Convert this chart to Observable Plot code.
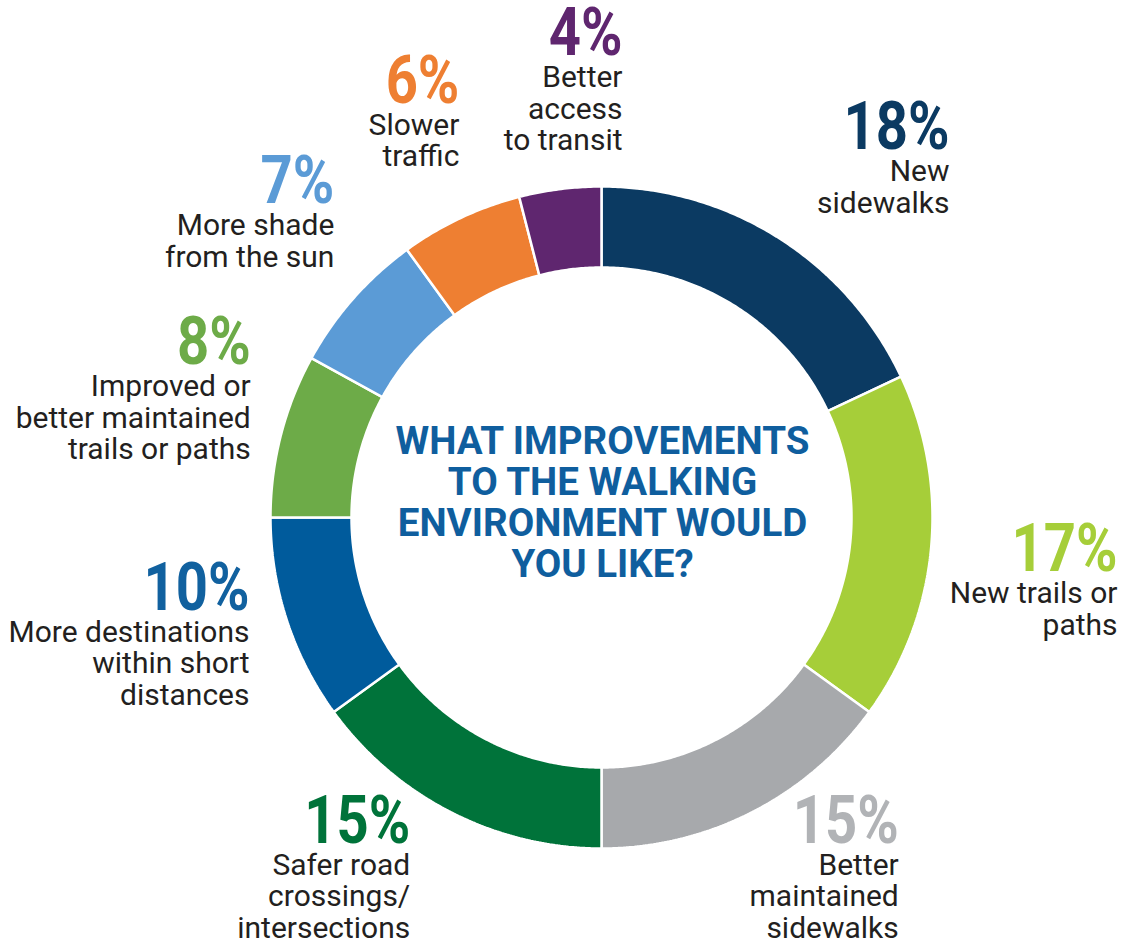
<!DOCTYPE html>
<html>
<head>
<meta charset="utf-8">
<script src="https://cdn.jsdelivr.net/npm/d3@7"></script>
<script src="https://cdn.jsdelivr.net/npm/@observablehq/plot@0.6"></script>
<style>
  html, body { margin: 0; padding: 0; background: #ffffff; }
  #chart svg { display: block; }
</style>
</head>
<body>
<div id="chart"></div>
<script>
// ---- Data ----
const categories = [
  "New sidewalks",
  "New trails or paths",
  "Better maintained sidewalks",
  "Safer road crossings/ intersections",
  "More destinations within short distances",
  "Improved or better maintained trails or paths",
  "More shade from the sun",
  "Slower traffic",
  "Better access to transit"
];
const values = [18, 17, 15, 15, 10, 8, 7, 6, 4];
const labelLines = [
  ["New", "sidewalks"],
  ["New trails or", "paths"],
  ["Better", "maintained", "sidewalks"],
  ["Safer road", "crossings/", "intersections"],
  ["More destinations", "within short", "distances"],
  ["Improved or", "better maintained", "trails or paths"],
  ["More shade", "from the sun"],
  ["Slower", "traffic"],
  ["Better", "access", "to transit"]
];
const sliceColors = ["#0b3a62", "#a6ce39", "#a7a9ac", "#00733a", "#005b9c", "#6dab48", "#5b9bd6", "#ee7f32", "#5f266f"];
const pctColors   = ["#0b3a62", "#a6ce39", "#b1b3b6", "#00733a", "#11619f", "#6dab48", "#5b9bd6", "#ee7f32", "#5f266f"];
const titleLines = ["WHAT IMPROVEMENTS", "TO THE WALKING", "ENVIRONMENT WOULD", "YOU LIKE?"];

// ---- Layout ----
const W = 1126, H = 949;
const cx = 601, cy = 517, rOuter = 331, rInner = 250;
const pctSize = 66, subSize = 30, firstGap = 32, lineH = 31.5;
const labelRx = 490, labelRy = 440, labelTurn = 2.7 * Math.PI / 180; // ellipse for label block centres
const ringClear = 6;                                                  // min gap between label and ring
const padL = 8, padR = 9, padT = 8, padB = 12;                        // keep label blocks inside canvas

// measuring (condensed look via horizontal scale of Roboto)
const ctx = document.createElement("canvas").getContext("2d");
function measure(t, font) { ctx.font = font; return ctx.measureText(t).width; }
const subScale = 241 / measure("More destinations", `400 ${subSize}px Roboto`);
const pctScale = 106 / measure("10%", `700 ${pctSize}px Roboto`);

// ---- Slices as polygons ----
const arcs = d3.pie().sort(null).value(d => d)(values);
const slicePts = [];
arcs.forEach((a, i) => {
  const n = Math.max(8, Math.ceil((a.endAngle - a.startAngle) * 120));
  const pts = [];
  for (let k = 0; k <= n; k++) {
    const t = a.startAngle + (a.endAngle - a.startAngle) * k / n;
    pts.push([cx + rOuter * Math.sin(t), cy - rOuter * Math.cos(t)]);
  }
  for (let k = n; k >= 0; k--) {
    const t = a.startAngle + (a.endAngle - a.startAngle) * k / n;
    pts.push([cx + rInner * Math.sin(t), cy - rInner * Math.cos(t)]);
  }
  pts.push(pts[0]);
  pts.forEach(([x, y]) => slicePts.push({key: categories[i], color: sliceColors[i], x, y}));
});

// ---- Label placement ----
function rectDist(x0, y0, x1, y1) {
  const dx = Math.max(x0 - cx, 0, cx - x1);
  const dy = Math.max(y0 - cy, 0, cy - y1);
  return Math.hypot(dx, dy);
}
const pctRows = [], subRows = [];
arcs.forEach((a, i) => {
  const mid = (a.startAngle + a.endAngle) / 2 + labelTurn;
  const pct = values[i] + "%";
  const capP = pctSize * 0.711, capS = subSize * 0.711;
  const rects = [[-measure(pct, `700 ${pctSize}px Roboto`) * pctScale, -capP, 0, 0]];
  labelLines[i].forEach((l, j) => {
    const w = measure(l, `400 ${subSize}px Roboto`) * subScale;
    const b = firstGap + j * lineH;
    rects.push([-w, b - capS, 0, b]);
  });
  const bw = -d3.min(rects, r => r[0]);
  const top = -capP, bottom = d3.max(rects, r => r[3]);
  let bcx = cx + labelRx * Math.sin(mid);
  let bcy = cy - labelRy * Math.cos(mid);
  bcx = Math.max(padL + bw / 2, Math.min(W - padR - bw / 2, bcx));
  bcy = Math.max(padT + (bottom - top) / 2, Math.min(H - padB - (bottom - top) / 2, bcy));
  let ax = bcx + bw / 2;
  const ay = bcy - (top + bottom) / 2;
  // push sideways, away from the ring, until every line clears it
  const dir = Math.sin(mid) >= 0 ? 1 : -1;
  for (let k = 0; k < 400; k++) {
    const d = d3.min(rects, r => rectDist(ax + r[0], ay + r[1], ax + r[2], ay + r[3]));
    if (d >= rOuter + ringClear) break;
    ax += dir;
  }
  pctRows.push({x: ax, y: ay, text: pct, color: pctColors[i]});
  labelLines[i].forEach((l, j) => subRows.push({x: ax, y: ay + firstGap + j * lineH, text: l}));
});

const titleRows = titleLines.map((t, i) => ({x: cx + 1, y: cy - 64 + i * 41, text: t}));

const chart = Plot.plot({
  width: W,
  height: H,
  margin: 0,
  style: {background: "#ffffff"},
  x: {domain: [0, W], range: [0, W], axis: null},
  y: {domain: [0, H], range: [0, H], axis: null},
  color: {type: "identity"},
  marks: [
    Plot.line(slicePts, {x: "x", y: "y", z: "key", fill: "color", stroke: "#ffffff", strokeWidth: 2.5, strokeLinejoin: "miter"}),
    Plot.text(pctRows, {x: "x", y: "y", text: "text", fill: "color", fontSize: pctSize, fontWeight: 700, fontFamily: "Roboto", textAnchor: "end", lineAnchor: "bottom"}),
    Plot.text(subRows, {x: "x", y: "y", text: "text", fill: "#231f20", fontSize: subSize, fontWeight: 400, fontFamily: "Roboto", textAnchor: "end", lineAnchor: "bottom"}),
    Plot.text(titleRows, {x: "x", y: "y", text: "text", fill: "#0f5e9e", fontSize: 38.5, fontWeight: 700, fontFamily: "Roboto", textAnchor: "middle", lineAnchor: "bottom"})
  ]
});

function condense(size, s) {
  chart.querySelectorAll(`g[font-size="${size}"] text`).forEach(t => {
    const tr = t.getAttribute("transform") || "";
    if (t.hasAttribute("x")) {
      const x = t.getAttribute("x");
      t.removeAttribute("x");
      t.setAttribute("transform", `${tr} translate(${x},0) scale(${s},1)`);
    } else {
      t.setAttribute("transform", `${tr} scale(${s},1)`);
    }
  });
}
condense(pctSize, pctScale);
condense(subSize, subScale);

document.getElementById("chart").appendChild(chart);
</script>
</body>
</html>
